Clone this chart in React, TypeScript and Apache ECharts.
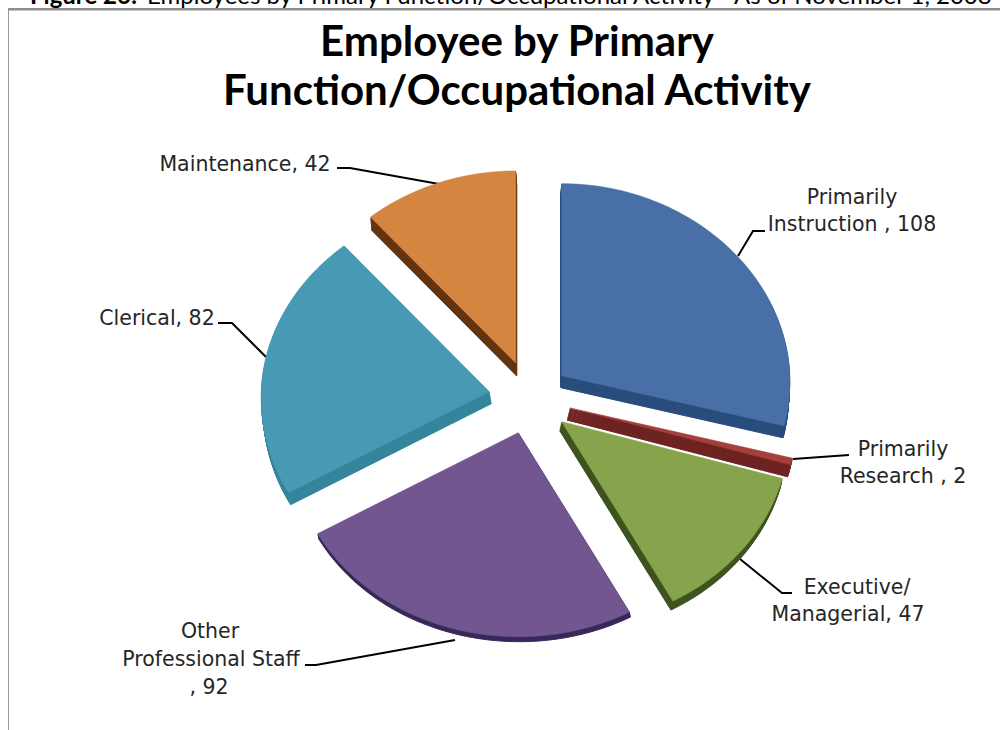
import React, { useEffect, useRef } from "react";
import * as echarts from "echarts";

const categories = ["Primarily\nInstruction ", "Primarily\nResearch ", "Executive/\nManagerial", "Other\nProfessional Staff\n", "Clerical", "Maintenance"];
const values = [108, 2, 47, 92, 82, 42];
const titleLines = ["Employee by Primary", "Function/Occupational Activity"];
const captionBold = "Figure 26:";
const captionRest = "Employees by Primary Function/Occupational Activity - As of November 1, 2008";

const topColors = ["#4870A6", "#A43F3C", "#87A44C", "#71568F", "#4899B4", "#D5853F"];
const wallColors = ["#294D7C", "#6E2422", "#3F5420", "#38295A", "#35859D", "#633610"];

// Exploded apex of each slice and its extrusion vector, on the page.
const apex = [[561.7, 375.7], [570, 408], [561.7, 421.7], [518.3, 432.7], [489.3, 391.7], [515.7, 363]];
const depth = [[-1, 12], [-3, 12], [-2, 9], [1, 5], [2, 12], [1, 13]];
const RX = 228, RX_TILT = 6, RY_UP = 192, RY_DOWN = 204;

const labelFont = "DejaVu Sans";
const labelLayout = [
  [{ x: 852, y: 197 }, { x: 852, y: 224 }],
  [{ x: 903, y: 449 }, { x: 903, y: 476 }],
  [{ x: 857, y: 587 }, { x: 848, y: 614 }],
  [{ x: 210, y: 631 }, { x: 211, y: 659 }, { x: 209, y: 687 }],
  [{ x: 157, y: 318 }],
  [{ x: 245, y: 164 }],
];
const leaders = [
  [[738, 256], [753, 231], [765, 231]],
  [[793, 459], [849, 455]],
  [[740, 559], [782, 593], [792, 593]],
  [[455, 640], [316, 665], [305, 665]],
  [[266, 357], [232, 323], [218, 323]],
  [[439, 184], [350, 168], [337, 168]],
];

function slicePoints(i: number, a0: number, a1: number) {
  const [cx, cy] = apex[i];
  const pts: number[][] = [[cx, cy]];
  const n = Math.max(2, Math.ceil((a1 - a0) / 0.025));
  for (let k = 0; k <= n; k++) {
    const a = a0 + ((a1 - a0) * k) / n;
    const c = Math.cos(a);
    pts.push([cx + (RX - RX_TILT * c) * Math.sin(a), cy - c * (c > 0 ? RY_UP : RY_DOWN)]);
  }
  return pts;
}

export default function App() {
  const ref = useRef<HTMLDivElement>(null);
  useEffect(() => {
    const chart = echarts.init(ref.current!, undefined, { renderer: "svg" });
    const total = values.reduce((s, v) => s + v, 0);
    const starts: number[] = [];
    values.reduce((s, v, i) => { starts[i] = s; return s + v; }, 0);

    const renderItem = (_: any, api: any) => {
      const i = api.value(0) as number;
      const v = api.value(1) as number;
      const a0 = (starts[i] / total) * Math.PI * 2;
      const a1 = ((starts[i] + v) / total) * Math.PI * 2;
      const pts = slicePoints(i, a0, a1);
      const [dx, dy] = depth[i];
      const children: any[] = [];
      const steps = Math.ceil(Math.abs(dy));
      for (let s = steps; s >= 1; s--) {
        const f = s / steps;
        children.push({
          type: "polygon", silent: true,
          shape: { points: pts.map(([x, y]) => [x + dx * f, y + dy * f]) },
          style: { fill: wallColors[i], stroke: wallColors[i], lineWidth: 1 },
        });
      }
      children.push({
        type: "polygon",
        shape: { points: pts },
        style: { fill: topColors[i], stroke: topColors[i], lineWidth: 0.6 },
      });
      return { type: "group", children };
    };

    const graphics: any[] = [
      { type: "rect", shape: { x: 8, y: 8, width: 992, height: 2.5 }, style: { fill: "#8E8E8E" } },
      { type: "rect", shape: { x: 8, y: 8, width: 1, height: 722 }, style: { fill: "#9A9A9A" } },
      { type: "text", x: 30, y: 6, style: { text: captionBold, font: "bold 24px Lato", fill: "#000", textAlign: "left", textVerticalAlign: "bottom" } },
      { type: "text", x: 147, y: 6, style: { text: captionRest, font: "24px Lato", fill: "#000", textAlign: "left", textVerticalAlign: "bottom" } },
    ];
    leaders.forEach((points) => graphics.push({
      type: "polyline", shape: { points }, style: { stroke: "#000", lineWidth: 2, fill: "none" },
    }));
    categories.forEach((c, i) => {
      const lines = (c + ", " + values[i]).split("\n");
      const merged = lines.length === labelLayout[i].length ? lines : [lines.join(" ")];
      merged.forEach((line, k) => graphics.push({
        type: "text", x: labelLayout[i][k].x, y: labelLayout[i][k].y,
        style: { text: line, font: `20.5px '${labelFont}'`, fill: "#262626", textAlign: "center", textVerticalAlign: "middle" },
      }));
    });

    chart.setOption({
      animation: false,
      backgroundColor: "#fff",
      title: {
        text: titleLines.join("\n"), left: 512, top: 10, textAlign: "center",
        textStyle: { fontFamily: "Lato", fontWeight: "bold", fontSize: 42, lineHeight: 49, color: "#000" },
      },
      series: [{
        type: "custom", coordinateSystem: "none", renderItem,
        data: values.map((v, i) => [i, v]),
        silent: true,
      }],
      graphic: { elements: graphics },
    });
    return () => chart.dispose();
  }, []);
  return <div ref={ref} style={{ position: "absolute", left: 0, top: 0, width: 1007, height: 730 }} />;
}
